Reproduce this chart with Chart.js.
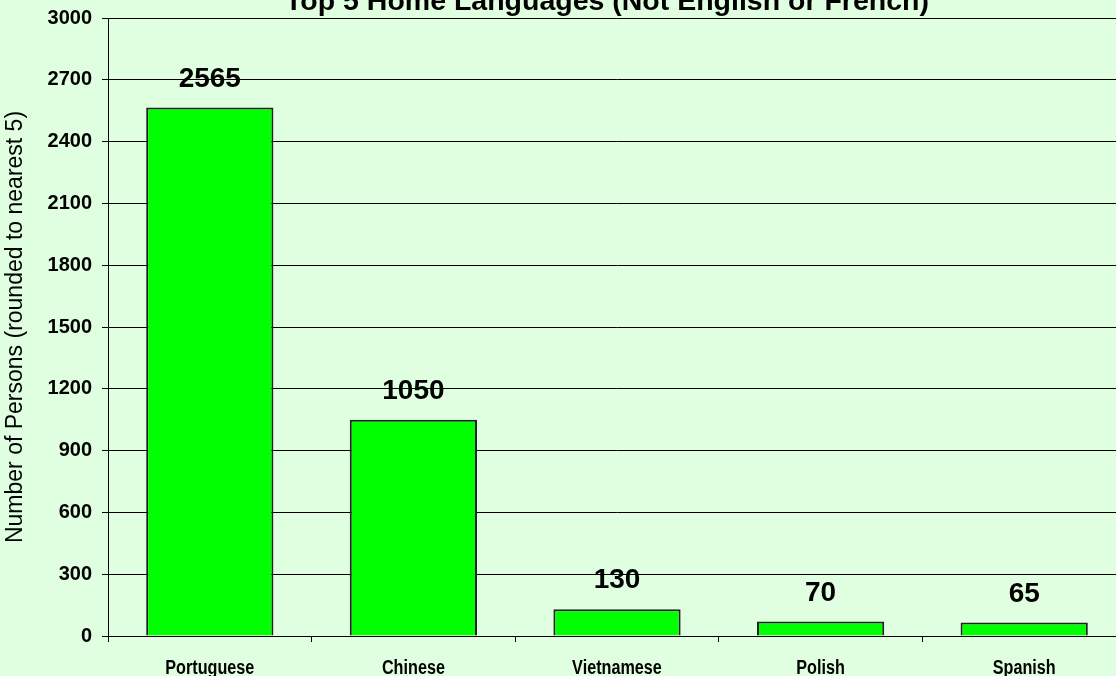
<!DOCTYPE html>
<html>
<head>
<meta charset="utf-8">
<script src="https://cdn.jsdelivr.net/npm/chart.js@4"></script>
<style>
    html, body { margin: 0; padding: 0; background: #e0ffe0; overflow: hidden; }
    #wrap { position: absolute; left: 0; top: 0; width: 1126px; height: 676px; }
</style>
</head>
<body>
<div id="wrap"><canvas id="langChart"></canvas></div>
<script>
const languages = ['Portuguese', 'Chinese', 'Vietnamese', 'Polish', 'Spanish'];
const persons = [2565, 1050, 130, 70, 65];
const chartTitle = 'Top 5 Home Languages (Not English or French)';
const yTitle = 'Number of Persons (rounded to nearest 5)';

// title sits partly above the page, so draw it by hand
const titlePlugin = {
    id: 'topTitle',
    afterDraw(chart) {
        const ctx = chart.ctx;
        ctx.save();
        ctx.font = 'bold 28.5px "Liberation Sans", Arial, sans-serif';
        ctx.fillStyle = '#000';
        ctx.textAlign = 'center';
        ctx.textBaseline = 'alphabetic';
        ctx.fillText(chartTitle, 607, 10);
        ctx.restore();
    }
};

const valueLabels = {
    id: 'valueLabels',
    afterDatasetsDraw(chart) {
        const ctx = chart.ctx;
        const meta = chart.getDatasetMeta(0);
        ctx.save();
        ctx.font = 'bold 28px "Liberation Sans", Arial, sans-serif';
        ctx.fillStyle = '#000';
        ctx.textAlign = 'center';
        ctx.textBaseline = 'alphabetic';
        meta.data.forEach((bar, i) => {
            ctx.fillText(persons[i], bar.x, bar.y - 21);
        });
        ctx.restore();
    }
};

// narrow bold category names (no condensed font available, so squeeze)
const narrowLabels = {
    id: 'narrowLabels',
    afterDraw(chart) {
        const ctx = chart.ctx;
        const xs = chart.scales.x;
        ctx.save();
        ctx.font = 'bold 20px "Liberation Sans", Arial, sans-serif';
        ctx.fillStyle = '#000';
        ctx.textAlign = 'center';
        ctx.textBaseline = 'alphabetic';
        languages.forEach((lab, i) => {
            const x = xs.getPixelForTick(i);
            ctx.save();
            ctx.translate(x, 674);
            ctx.scale(0.81, 1);
            ctx.fillText(lab, 0, 0);
            ctx.restore();
        });
        ctx.restore();
    }
};

new Chart(document.getElementById('langChart'), {
    type: 'bar',
    data: {
        labels: languages,
        datasets: [{
            data: persons,
            backgroundColor: '#00ff00',
            borderColor: '#222',
            borderWidth: 2,
            categoryPercentage: 1,
            barPercentage: 0.625
        }]
    },
    plugins: [titlePlugin, valueLabels, narrowLabels],
    options: {
        responsive: true,
        maintainAspectRatio: false,
        animation: false,
        layout: { padding: { top: 18, right: 0, left: 0, bottom: 0 } },
        plugins: {
            legend: { display: false },
            title: { display: false },
            tooltip: { enabled: false }
        },
        scales: {
            x: {
                afterFit(scale) { scale.height = 40; },
                grid: {
                    display: true,
                    drawOnChartArea: false,
                    color: '#000',
                    tickLength: 6,
                    offset: true
                },
                border: { color: '#000', width: 1 },
                ticks: { display: false }
            },
            y: {
                min: 0,
                max: 3000,
                afterFit(scale) {
                    scale.width = 108;
                    scale.paddingTop = 0;
                    scale.paddingBottom = 0;
                },
                grid: { color: '#000', lineWidth: 1, tickLength: 6 },
                border: { color: '#000', width: 1 },
                ticks: {
                    stepSize: 300,
                    padding: 10,
                    color: '#000',
                    callback: v => String(v),
                    font: { family: '"Liberation Sans", Arial, sans-serif', size: 20, weight: 'bold' }
                },
                title: {
                    display: true,
                    text: yTitle,
                    color: '#000',
                    padding: { top: 2, bottom: 0 },
                    font: { family: '"Liberation Sans", Arial, sans-serif', size: 23, weight: 'normal' }
                }
            }
        }
    }
});
</script>
</body>
</html>
